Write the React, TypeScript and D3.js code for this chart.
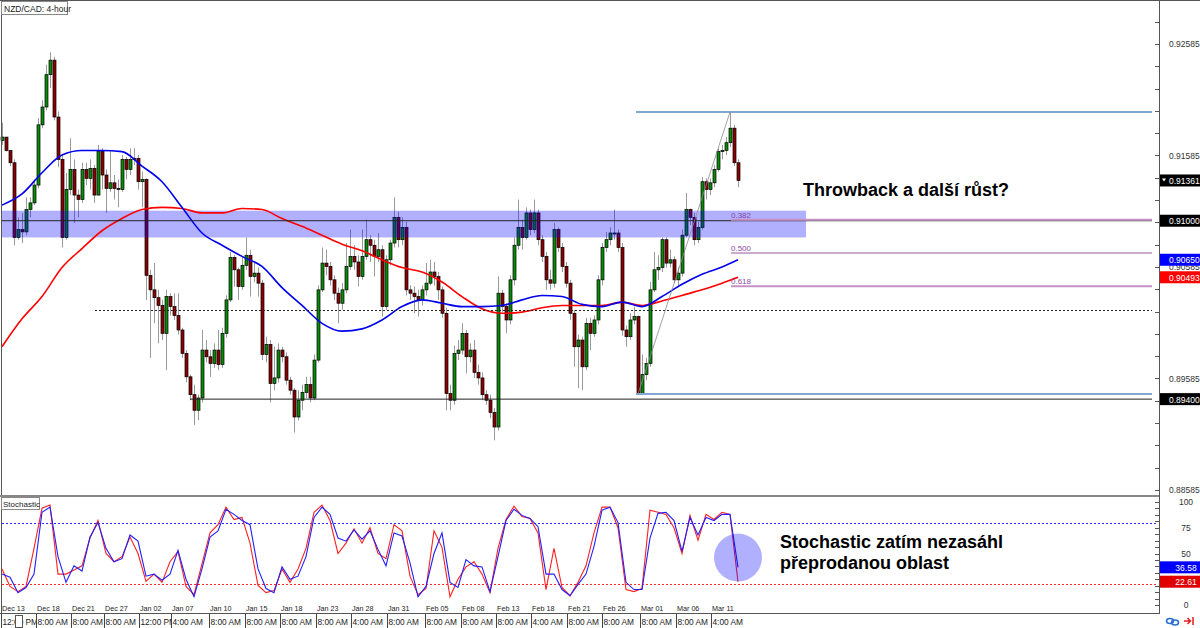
import React from "react";
import * as d3 from "d3";

// ---------- DATA ----------
const firstOpen = 0.9172;
const closes = [
  0.9175, 0.9163, 0.9152, 0.9085, 0.9092, 0.909, 0.911, 0.9116, 0.9132, 0.9186,
  0.9202, 0.9231, 0.9244, 0.9193, 0.9155, 0.9085, 0.9128, 0.9146, 0.9123, 0.9119,
  0.9146, 0.9138, 0.9147, 0.9123, 0.9162, 0.9141, 0.9129, 0.9134, 0.9129, 0.9128,
  0.9155, 0.9146, 0.9155, 0.9156, 0.9135, 0.9137, 0.9051, 0.9038, 0.9031, 0.9024,
  0.8999, 0.9032, 0.9023, 0.9015, 0.9002, 0.8981, 0.896, 0.8944, 0.893, 0.8941,
  0.8984, 0.8978, 0.8972, 0.8984, 0.8971, 0.8999, 0.9029, 0.9067, 0.9056, 0.9041,
  0.906, 0.9069, 0.905, 0.9053, 0.9044, 0.898, 0.8989, 0.8954, 0.8959, 0.8984,
  0.8978, 0.8957, 0.8948, 0.8924, 0.8939, 0.8946, 0.8953, 0.8941, 0.8975, 0.9038,
  0.9062, 0.9059, 0.9047, 0.9035, 0.9026, 0.9038, 0.9059, 0.9068, 0.9063, 0.905,
  0.9068, 0.9083, 0.9078, 0.9068, 0.9074, 0.9023, 0.9065, 0.908, 0.9103, 0.9083,
  0.9094, 0.9038, 0.9035, 0.9032, 0.9029, 0.9038, 0.9044, 0.9054, 0.905, 0.9038,
  0.9017, 0.8945, 0.8939, 0.8981, 0.8984, 0.8999, 0.8978, 0.8984, 0.8964, 0.8959,
  0.8944, 0.8939, 0.8928, 0.8915, 0.9035, 0.9023, 0.9011, 0.9047, 0.9078, 0.9094,
  0.9085, 0.9107, 0.9092, 0.9107, 0.9083, 0.9068, 0.9047, 0.9044, 0.9092, 0.9076,
  0.9059, 0.9044, 0.9017, 0.8987, 0.8993, 0.8969, 0.9008, 0.8999, 0.9011, 0.9047,
  0.9076, 0.9083, 0.9089, 0.9089, 0.9076, 0.9002, 0.8996, 0.9011, 0.9014, 0.8945,
  0.8962, 0.8972, 0.9038, 0.9056, 0.9058, 0.9083, 0.9062, 0.9065, 0.9047, 0.9053,
  0.9087, 0.911, 0.9103, 0.9083, 0.9094, 0.9135, 0.9128, 0.9134, 0.9146, 0.9162,
  0.9163, 0.917, 0.9183, 0.9152, 0.91361,
];
const highs = [
  0.9188, 0.9175, 0.9163, 0.9155, 0.9103, 0.9107, 0.9121, 0.9121, 0.9137, 0.9192,
  0.9208, 0.924, 0.9251, 0.9247, 0.9198, 0.9159, 0.9143, 0.9174, 0.9155, 0.9128,
  0.9152, 0.9152, 0.9155, 0.915, 0.9168, 0.9165, 0.9146, 0.9163, 0.9141, 0.9137,
  0.9159, 0.9157, 0.9165, 0.9165, 0.9159, 0.9144, 0.9138, 0.9056, 0.9062, 0.9038,
  0.9029, 0.9038, 0.9035, 0.9035, 0.9035, 0.9004, 0.8984, 0.8962, 0.8953, 0.8944,
  0.9002, 0.8993, 0.8984, 0.899, 0.9002, 0.9004, 0.9033, 0.9072, 0.9069, 0.9058,
  0.9068, 0.9085, 0.9074, 0.9062, 0.9058, 0.9047, 0.8996, 0.8993, 0.8987, 0.899,
  0.8987, 0.8982, 0.896, 0.895, 0.8948, 0.8953, 0.896, 0.896, 0.898, 0.9042,
  0.9076, 0.9074, 0.9063, 0.9051, 0.904, 0.9044, 0.908, 0.9092, 0.9078, 0.9069,
  0.9092, 0.9101, 0.9087, 0.9083, 0.9089, 0.9078, 0.9069, 0.9083, 0.9121, 0.9108,
  0.9103, 0.9099, 0.9042, 0.9041, 0.9038, 0.9042, 0.9062, 0.9065, 0.9063, 0.9054,
  0.9041, 0.9022, 0.8953, 0.8988, 0.8993, 0.9008, 0.9002, 0.899, 0.8993, 0.8971,
  0.8964, 0.8948, 0.8944, 0.8932, 0.905, 0.9038, 0.9026, 0.9051, 0.9085, 0.9119,
  0.9101, 0.9112, 0.911, 0.9119, 0.911, 0.9087, 0.9072, 0.9056, 0.9098, 0.9094,
  0.908, 0.9063, 0.9047, 0.902, 0.8998, 0.8996, 0.9013, 0.9013, 0.9015, 0.9051,
  0.908, 0.909, 0.9094, 0.911, 0.9092, 0.908, 0.9006, 0.9017, 0.9023, 0.9015,
  0.898, 0.8977, 0.9045, 0.9072, 0.9069, 0.9085, 0.9085, 0.9074, 0.9068, 0.9058,
  0.9092, 0.9125, 0.9111, 0.9107, 0.9099, 0.9139, 0.9138, 0.9138, 0.915, 0.9165,
  0.9168, 0.9175, 0.91975, 0.9186, 0.9155,
];
const lows = [
  0.9168, 0.9162, 0.9149, 0.9078, 0.9083, 0.908, 0.9087, 0.9103, 0.9114, 0.9129,
  0.9183, 0.9199, 0.9219, 0.919, 0.9148, 0.9076, 0.9083, 0.9123, 0.9098, 0.9103,
  0.9116, 0.9132, 0.9128, 0.9116, 0.9123, 0.9128, 0.9107, 0.9126, 0.9119, 0.9112,
  0.9126, 0.9137, 0.9141, 0.915, 0.9128, 0.9112, 0.9029, 0.8977, 0.9008, 0.899,
  0.8993, 0.8966, 0.9015, 0.9011, 0.8998, 0.8977, 0.8955, 0.8939, 0.8917, 0.8921,
  0.8937, 0.8973, 0.896, 0.8968, 0.8966, 0.8968, 0.8995, 0.9027, 0.9041, 0.9029,
  0.9038, 0.9056, 0.9032, 0.9045, 0.9032, 0.8975, 0.8973, 0.8937, 0.8948, 0.8955,
  0.8973, 0.8953, 0.8944, 0.891, 0.8921, 0.893, 0.8941, 0.8937, 0.8939, 0.8973,
  0.9036, 0.9051, 0.9042, 0.9029, 0.9008, 0.902, 0.9035, 0.9056, 0.9056, 0.9041,
  0.9047, 0.9065, 0.9063, 0.905, 0.9063, 0.9014, 0.902, 0.906, 0.9076, 0.9076,
  0.9078, 0.9033, 0.9029, 0.9017, 0.9014, 0.9024, 0.9033, 0.9042, 0.9042, 0.9029,
  0.9013, 0.893, 0.893, 0.8935, 0.8975, 0.898, 0.8963, 0.8973, 0.8959, 0.8953,
  0.8939, 0.8935, 0.8923, 0.8903, 0.8912, 0.9018, 0.8999, 0.9007, 0.9042, 0.9074,
  0.9074, 0.9083, 0.9087, 0.9089, 0.9078, 0.9063, 0.9038, 0.9038, 0.904, 0.9072,
  0.9054, 0.904, 0.9011, 0.8969, 0.895, 0.8948, 0.8966, 0.8984, 0.8996, 0.9007,
  0.9042, 0.9072, 0.9078, 0.9083, 0.9072, 0.8997, 0.8987, 0.8993, 0.9007, 0.8944,
  0.895, 0.8957, 0.8969, 0.9036, 0.9047, 0.9054, 0.9058, 0.9058, 0.9044, 0.9042,
  0.905, 0.9085, 0.9096, 0.9078, 0.908, 0.9092, 0.9119, 0.9123, 0.913, 0.9144,
  0.9155, 0.9159, 0.9166, 0.9149, 0.913,
];

// moving averages, sampled every 5 bars (+ last bar)
const maBlue = [
  0.9114, 0.9124, 0.9143, 0.9159, 0.9163, 0.9163, 0.9162, 0.9149, 0.9135, 0.9112,
  0.9089, 0.9078, 0.9068, 0.9059, 0.904, 0.9024, 0.9008, 0.9001, 0.9003, 0.9011,
  0.9023, 0.9029, 0.9026, 0.9023, 0.9023, 0.9024, 0.9029, 0.9033, 0.9032, 0.9025,
  0.9023, 0.9027, 0.9023, 0.9032, 0.9043, 0.9052, 0.90585, 0.9065,
];
const maRed = [
  0.8987, 0.9012, 0.9032, 0.9058, 0.9075, 0.9091, 0.9102, 0.911, 0.9112, 0.9111,
  0.9107, 0.9107, 0.9111, 0.911, 0.9102, 0.9095, 0.9087, 0.9079, 0.9073, 0.9065,
  0.9058, 0.9054, 0.9045, 0.9032, 0.9021, 0.9017, 0.9018, 0.9022, 0.9024, 0.9024,
  0.9024, 0.9027, 0.9024, 0.9028, 0.9033, 0.9038, 0.9044, 0.90493,
];

// stochastic, sampled every 2 bars
const stochK = [
  35, 18, 13, 18, 55, 94, 97, 30, 30, 34, 38, 65, 82, 50, 42, 47, 66, 50, 23, 30,
  22, 42, 52, 18, 10, 40, 70, 78, 95, 83, 85, 60, 19, 12, 14, 35, 22, 35, 55, 90,
  97, 82, 50, 60, 74, 60, 75, 50, 45, 78, 72, 28, 10, 16, 72, 56, 8, 25, 37, 42,
  30, 12, 55, 83, 96, 86, 84, 70, 15, 55, 17, 9, 22, 38, 70, 95, 95, 75, 15, 13,
  16, 92, 90, 88, 75, 50, 87, 63, 88, 83, 90, 88, 22.61,
];
const stochD = [
  30, 27, 12, 17, 30, 90, 95, 47, 22, 38, 33, 66, 80, 55, 42, 45, 68, 62, 28, 30,
  24, 30, 53, 25, 8, 35, 66, 72, 93, 88, 82, 78, 35, 16, 12, 37, 25, 28, 47, 85,
  95, 88, 65, 62, 73, 64, 72, 54, 38, 70, 67, 41, 8, 18, 50, 70, 22, 17, 44, 38,
  37, 13, 47, 82, 93, 87, 84, 76, 30, 30, 15, 9, 20, 30, 57, 92, 95, 80, 22, 15,
  15, 65, 89, 90, 82, 52, 85, 68, 85, 82, 88, 88, 36.58,
];

const dateLabels = [
  "Dec 13", "Dec 18", "Dec 21", "Dec 27", "Jan 02", "Jan 07", "Jan 10", "Jan 15",
  "Jan 18", "Jan 23", "Jan 28", "Jan 31", "Feb 05", "Feb 08", "Feb 13", "Feb 18",
  "Feb 21", "Feb 26", "Mar 01", "Mar 06", "Mar 11",
];
const timeLabels = [
  "12:00 PM", "8:00 AM", "8:00 AM", "8:00 AM", "12:00 PM", "4:00 AM", "8:00 AM",
  "8:00 AM", "8:00 AM", "8:00 AM", "4:00 AM", "8:00 AM", "8:00 AM", "8:00 AM",
  "8:00 AM", "4:00 AM", "8:00 AM", "8:00 AM", "8:00 AM", "8:00 AM", "4:00 AM",
];
const dateTickIdx = [
  0, 8.75, 17.5, 25.75, 34.5, 42.5, 52, 61, 69.75, 78.75, 87.5, 96.5, 106, 115,
  123.75, 132.5, 141.5, 150.25, 159.75, 168.75, 177.5,
];
const priceLabels = [0.88585, 0.89585, 0.90585, 0.91585, 0.92585];
const stochLabels = [0, 50, 75, 100];

const zone = [0.9085, 0.9109];
const resistance = 0.91;
const support = 0.894;
const dottedLevel = 0.902;
const fibLow = 0.89446;
const fibHigh = 0.91975;
const fibLevels = [0.382, 0.5, 0.618];
const lastPrice = 0.91361;
const stochUpper = 80;
const stochLower = 20;

// ---------- CHART ----------
const FONT = "'Liberation Sans', Arial, sans-serif";

export default function App() {
  const n = closes.length;
  const x = d3.scaleLinear().domain([0, n - 1]).range([2, 738]);
  const y = d3.scaleLinear().domain([0.88585, 0.92585]).range([490, 44]);
  const ys = d3.scaleLinear().domain([0, 100]).range([605, 502]);

  const maIdx = [...d3.range(0, 181, 5), n - 1];
  const stIdx = d3.range(0, n, 2);

  const maLine = (arr: number[]) =>
    d3
      .line<number>()
      .x((_, i) => x(maIdx[i]))
      .y((d) => y(d))
      .curve(d3.curveMonotoneX)(arr) || "";
  const stLine = (arr: number[]) =>
    d3
      .line<number>()
      .x((_, i) => x(stIdx[i]))
      .y((d) => ys(d))(arr) || "";

  const candles = closes.map((c, i) => {
    const o = i === 0 ? firstOpen : closes[i - 1];
    const hi = Math.max(highs[i], o, c);
    const lo = Math.min(lows[i], o, c);
    const cx = Math.round(x(i)) + 0.5;
    const top = y(Math.max(o, c));
    const h = Math.max(1, Math.abs(y(o) - y(c)));
    const bull = c >= o;
    return { cx, hi, lo, top, h, bull, i };
  });

  const fibPrice = (l: number) => fibHigh - l * (fibHigh - fibLow);
  const lineEnd = 1152;
  const fibStart = x(158.5);
  const fibLabelX = x(182.25);

  const minorPriceTicks = d3.range(0, 22).map((k) => 0.88585 + 0.002 * k);
  const minorStochTicks = d3.range(0, 17).map((k) => k * 6.25);

  const cellX = dateTickIdx.map((d) => Math.round(x(d)) - 0.5);

  const labelBox = (yy: number, fill: string, key: string, txt: string, tri = false) => (
    <g key={key}>
      <rect x={1160} y={yy - 6} width={40} height={12} fill={fill} />
      {tri && <path d={`M1162,${yy - 2} L1166,${yy - 2} L1164,${yy + 1} Z`} fill="#fff" />}
      <text x={1169} y={yy + 3.5} fontSize={8.5} fill="#fff" fontFamily={FONT}>
        {txt}
      </text>
    </g>
  );

  const mbLast = maBlue[maBlue.length - 1];
  const mrLast = maRed[maRed.length - 1];
  const kLast = stochK[stochK.length - 1];
  const dLast = stochD[stochD.length - 1];

  return (
    <div>
      <style>{`body{margin:0;background:#fff}`}</style>
      <svg width={1200} height={628} style={{ display: "block" }}>
        <defs>
          {cellX.map((cx, i) => (
            <clipPath id={"cell" + i} key={"cp" + i}>
              <rect x={cx} y={614} width={(i + 1 < cellX.length ? cellX[i + 1] : 1159) - cx} height={14} />
            </clipPath>
          ))}
        </defs>
        <rect x={0} y={0} width={1200} height={628} fill="#fff" />

        {/* candles */}
        <g>
          {candles.map((d) => (
            <line key={"w" + d.i} x1={d.cx} x2={d.cx} y1={y(d.hi)} y2={y(d.lo)} stroke="#9a9a9a" strokeWidth={1} />
          ))}
          {candles.map((d) => (
            <rect
              key={"b" + d.i}
              x={d.cx - 1.5}
              y={d.top}
              width={3}
              height={d.h}
              fill={d.bull ? "#0a8a0a" : "#8b0000"}
              stroke="#000"
              strokeWidth={0.7}
            />
          ))}
        </g>

        {/* zone */}
        <rect x={2} y={y(zone[1])} width={804} height={y(zone[0]) - y(zone[1])} fill="#0000ff" fillOpacity={0.31} />

        {/* moving averages */}
        <path d={maLine(maRed)} fill="none" stroke="#ff0000" strokeWidth={1.6} />
        <path d={maLine(maBlue)} fill="none" stroke="#0000ee" strokeWidth={1.6} />

        {/* horizontal levels */}
        <line x1={2} x2={lineEnd} y1={y(resistance)} y2={y(resistance)} stroke="#222" strokeWidth={1} />
        <line x1={x(47)} x2={lineEnd} y1={y(support)} y2={y(support)} stroke="#222" strokeWidth={1} />
        <line
          x1={x(23.25)}
          x2={lineEnd}
          y1={Math.round(y(dottedLevel)) + 0.5}
          y2={Math.round(y(dottedLevel)) + 0.5}
          stroke="#222"
          strokeWidth={1}
          strokeDasharray="2,2"
        />

        {/* fibonacci */}
        <line x1={fibStart} x2={lineEnd} y1={y(fibHigh)} y2={y(fibHigh)} stroke="#82a8d0" strokeWidth={2} />
        <line x1={fibStart} x2={lineEnd} y1={y(fibLow)} y2={y(fibLow)} stroke="#82a8d0" strokeWidth={2} />
        {fibLevels.map((l) => {
          const yy = y(fibPrice(l));
          const mid = l === 0.5;
          return (
            <g key={"f" + l}>
              <line
                x1={fibLabelX}
                x2={lineEnd}
                y1={yy}
                y2={yy}
                stroke={mid ? "#9a5a9a" : "#c692c6"}
                strokeWidth={mid ? 1.2 : 2}
              />
              <text x={fibLabelX} y={yy - 2} fontSize={8} fill="#8a4aa0" fontFamily={FONT}>
                {l.toFixed(3)}
              </text>
            </g>
          );
        })}
        <line x1={x(159)} y1={y(fibLow)} x2={x(182)} y2={y(fibHigh)} stroke="#8a8a8a" strokeWidth={0.8} />

        {/* annotation */}
        <text x={803} y={196} fontSize={18} fontWeight="bold" fill="#000" fontFamily={FONT}>
          Throwback a další růst?
        </text>

        {/* pane separators & frame */}
        <line x1={0} x2={1200} y1={0.5} y2={0.5} stroke="#555" />
        <line x1={1.5} x2={1.5} y1={0} y2={613} stroke="#555" />
        <line x1={0} x2={1160} y1={496} y2={496} stroke="#888" strokeWidth={2} />

        {/* title */}
        <rect x={1.5} y={1.5} width={66} height={13} fill="#fff" stroke="#888" />
        <text x={4} y={11.5} fontSize={8.5} fill="#222" fontFamily={FONT}>
          NZD/CAD: 4-hour
        </text>

        {/* stochastic pane */}
        <line x1={2} x2={1158} y1={Math.round(ys(stochUpper)) + 0.5} y2={Math.round(ys(stochUpper)) + 0.5} stroke="#2a2aff" strokeDasharray="2,2" />
        <line x1={2} x2={1158} y1={Math.round(ys(stochLower)) + 0.5} y2={Math.round(ys(stochLower)) + 0.5} stroke="#ff2a2a" strokeDasharray="2,2" />
        <path d={stLine(stochK)} fill="none" stroke="#ff2020" strokeWidth={1.1} />
        <path d={stLine(stochD)} fill="none" stroke="#2020ff" strokeWidth={1.1} />
        <circle cx={x(n - 1)} cy={ys(46)} r={24} fill="#0000ff" fillOpacity={0.31} />
        <text x={780} y={548} fontSize={18} fontWeight="bold" fill="#000" fontFamily={FONT}>
          Stochastic zatím nezasáhl
        </text>
        <text x={780} y={569} fontSize={18} fontWeight="bold" fill="#000" fontFamily={FONT}>
          přeprodanou oblast
        </text>
        <rect x={1.5} y={497.5} width={38} height={12} fill="#fff" stroke="#888" />
        <text x={3} y={507} fontSize={8} fill="#222" fontFamily={FONT}>
          Stochastic
        </text>

        {/* right axis */}
        <line x1={1159.5} x2={1159.5} y1={0} y2={614} stroke="#555" />
        {minorPriceTicks.map((p) => (
          <line key={"pt" + p} x1={1155} x2={1159} y1={Math.round(y(p)) + 0.5} y2={Math.round(y(p)) + 0.5} stroke="#555" />
        ))}
        {priceLabels.map((p) => (
          <text key={"pl" + p} x={1169} y={y(p) + 3} fontSize={8.5} fill="#333" fontFamily={FONT}>
            {p.toFixed(5)}
          </text>
        ))}
        {minorStochTicks.map((v) => (
          <line key={"st" + v} x1={1155} x2={1159} y1={Math.round(ys(v)) + 0.5} y2={Math.round(ys(v)) + 0.5} stroke="#555" />
        ))}
        {stochLabels.map((v) => (
          <text key={"sl" + v} x={1186} y={ys(v) + 3} fontSize={8.5} fill="#333" textAnchor="middle" fontFamily={FONT}>
            {v}
          </text>
        ))}

        {labelBox(y(lastPrice), "#000", "lp", lastPrice.toFixed(5), true)}
        {labelBox(y(resistance), "#000", "rs", resistance.toFixed(5))}
        {labelBox(y(mbLast), "#0000ff", "mb", mbLast.toFixed(5))}
        {labelBox(y(mrLast), "#ff0000", "mr", mrLast.toFixed(5))}
        {labelBox(y(support), "#000", "sp", support.toFixed(5))}
        <g>
          <rect x={1160} y={ys(dLast) - 6} width={40} height={12} fill="#0000ff" />
          <text x={1186} y={ys(dLast) + 3.5} fontSize={8.5} fill="#fff" textAnchor="middle" fontFamily={FONT}>
            {dLast.toFixed(2)}
          </text>
          <rect x={1160} y={ys(kLast) - 6} width={40} height={12} fill="#e00000" />
          <text x={1186} y={ys(kLast) + 3.5} fontSize={8.5} fill="#fff" textAnchor="middle" fontFamily={FONT}>
            {kLast.toFixed(2)}
          </text>
        </g>

        {/* time axis */}
        <line x1={0} x2={1160} y1={613.5} y2={613.5} stroke="#555" />
        {dateLabels.map((d, i) => (
          <text key={"d" + i} x={x(dateTickIdx[i])} y={611} fontSize={7.2} fill="#222" fontFamily={FONT}>
            {d}
          </text>
        ))}
        {timeLabels.map((t, i) => (
          <g key={"t" + i}>
            <line x1={cellX[i]} x2={cellX[i]} y1={614} y2={628} stroke="#444" />
            <text x={x(dateTickIdx[i]) + 0.5} y={625} fontSize={8.3} fill="#222" fontFamily={FONT} clipPath={`url(#cell${i})`}>
              {t}
            </text>
          </g>
        ))}
        <rect x={15.5} y={615.5} width={7} height={12} fill="#fff" stroke="#555" />

        {/* bottom-right icons */}
        <g fill="none" stroke="#2a6fd6" strokeWidth={1.5}>
          <ellipse cx={1170} cy={621} rx={3.5} ry={2.5} />
          <ellipse cx={1175} cy={622.5} rx={3.5} ry={2.5} />
        </g>
        <g stroke="#e02020" strokeWidth={1.5} fill="none">
          <path d="M1184,621 L1190,621 M1187.5,618 L1190.5,621 L1187.5,624" />
          <line x1={1193} x2={1193} y1={617} y2={625} />
        </g>
      </svg>
    </div>
  );
}
